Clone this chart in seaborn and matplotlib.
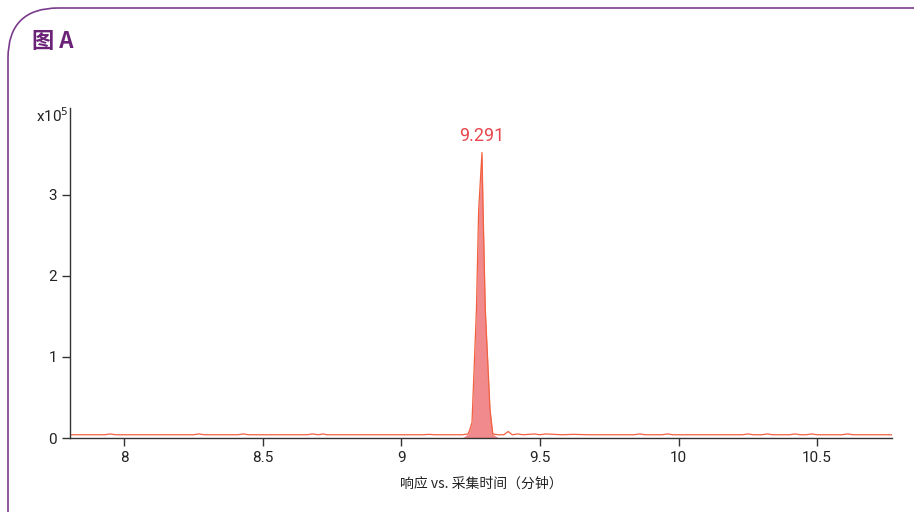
import numpy as np
import pandas as pd
import matplotlib
matplotlib.use("Agg")
import matplotlib.pyplot as plt
import seaborn as sns
from matplotlib.patches import FancyBboxPatch

# retention time (min) and response (x10^5)
times = [7.80, 7.93, 7.95, 7.97, 8.25, 8.27, 8.29, 8.41, 8.43, 8.45, 8.66, 8.68,
         8.70, 8.72, 8.73, 8.75, 9.08, 9.10, 9.12, 9.22, 9.24, 9.245, 9.255,
         9.271, 9.279, 9.291, 9.295, 9.303, 9.32, 9.33, 9.35, 9.37, 9.386,
         9.40, 9.42, 9.44, 9.46, 9.48, 9.50, 9.52, 9.55, 9.58, 9.62, 9.68,
         9.84, 9.86, 9.88, 9.94, 9.96, 9.98, 10.23, 10.25, 10.27, 10.30, 10.32,
         10.34, 10.40, 10.42, 10.44, 10.46, 10.48, 10.50, 10.59, 10.61, 10.63,
         10.78]
response = [0.04, 0.04, 0.05, 0.04, 0.04, 0.05, 0.04, 0.04, 0.05, 0.04, 0.04, 0.05,
            0.04, 0.05, 0.04, 0.04, 0.04, 0.045, 0.04, 0.04, 0.05, 0.08, 0.19,
            1.58, 2.81, 3.52, 2.81, 1.58, 0.35, 0.05, 0.04, 0.04, 0.08,
            0.04, 0.05, 0.04, 0.045, 0.05, 0.04, 0.05, 0.045, 0.04, 0.045, 0.04,
            0.04, 0.05, 0.04, 0.04, 0.05, 0.04, 0.04, 0.05, 0.04, 0.04, 0.05,
            0.04, 0.04, 0.05, 0.04, 0.04, 0.05, 0.04, 0.04, 0.05, 0.04,
            0.04]
peak_rt = 9.291
x_ticks = [8, 8.5, 9, 9.5, 10, 10.5]
y_ticks = [0, 1, 2, 3]

df = pd.DataFrame({"time": times, "resp": response})

sns.set_style("ticks")
plt.rcParams['font.family'] = ['Roboto', 'Noto Sans CJK SC', 'DejaVu Sans']

fig = plt.figure(figsize=(9.14, 5.12), dpi=100)

# rounded purple frame (cut off at right and bottom)
frame = FancyBboxPatch((8 / 914, -0.1), 1.2, 1 - 8 / 512 + 0.1,
                       boxstyle="round,pad=0,rounding_size=0.055",
                       transform=fig.transFigure, fill=False,
                       edgecolor="#7a3b8c", lw=1.2, mutation_aspect=914 / 512)
fig.patches.append(frame)

fig.text(32 / 914, 1 - 42 / 512, "图 A", color="#6b2378", fontsize=16,
         fontweight="bold", va="center", ha="left",
         family=['Noto Sans CJK SC', 'DejaVu Sans'])

ax = fig.add_axes([70 / 914, 1 - 438 / 512, 822 / 914, 330 / 512])

ax.fill_between(df.time, 0, df.resp, where=(df.time > 9.23) & (df.time < 9.34),
                color="#f08a8c", lw=0, interpolate=True)
sns.lineplot(data=df, x="time", y="resp", ax=ax, color="#f2603f", lw=0.9)

ax.set_xlim(7.805, 10.77)
ax.set_ylim(0, 4.07)
ax.set_xticks(x_ticks)
ax.set_xticklabels(["8", "8.5", "9", "9.5", "10", "10.5"])
ax.set_yticks(y_ticks)
ax.tick_params(axis="both", direction="out", length=6, width=1, color="#333333",
               labelsize=11, labelcolor="#222222")
for s in ["top", "right"]:
    ax.spines[s].set_visible(False)
for s in ["left", "bottom"]:
    ax.spines[s].set_color("#333333")
    ax.spines[s].set_linewidth(1)

ax.set_xlabel("响应 vs. 采集时间（分钟）", fontsize=10, color="#222222",
              family=['Noto Sans CJK SC', 'DejaVu Sans'], labelpad=8)
ax.set_ylabel("")

ax.text(-0.002, 0.976, r"x10$^5$", transform=ax.transAxes, ha="right", va="center",
        fontsize=11, color="#222222")

ax.text(peak_rt, 3.73, "9.291", ha="center", va="center", color="#e8474f", fontsize=13)

fig.savefig("out.png", dpi=100)
